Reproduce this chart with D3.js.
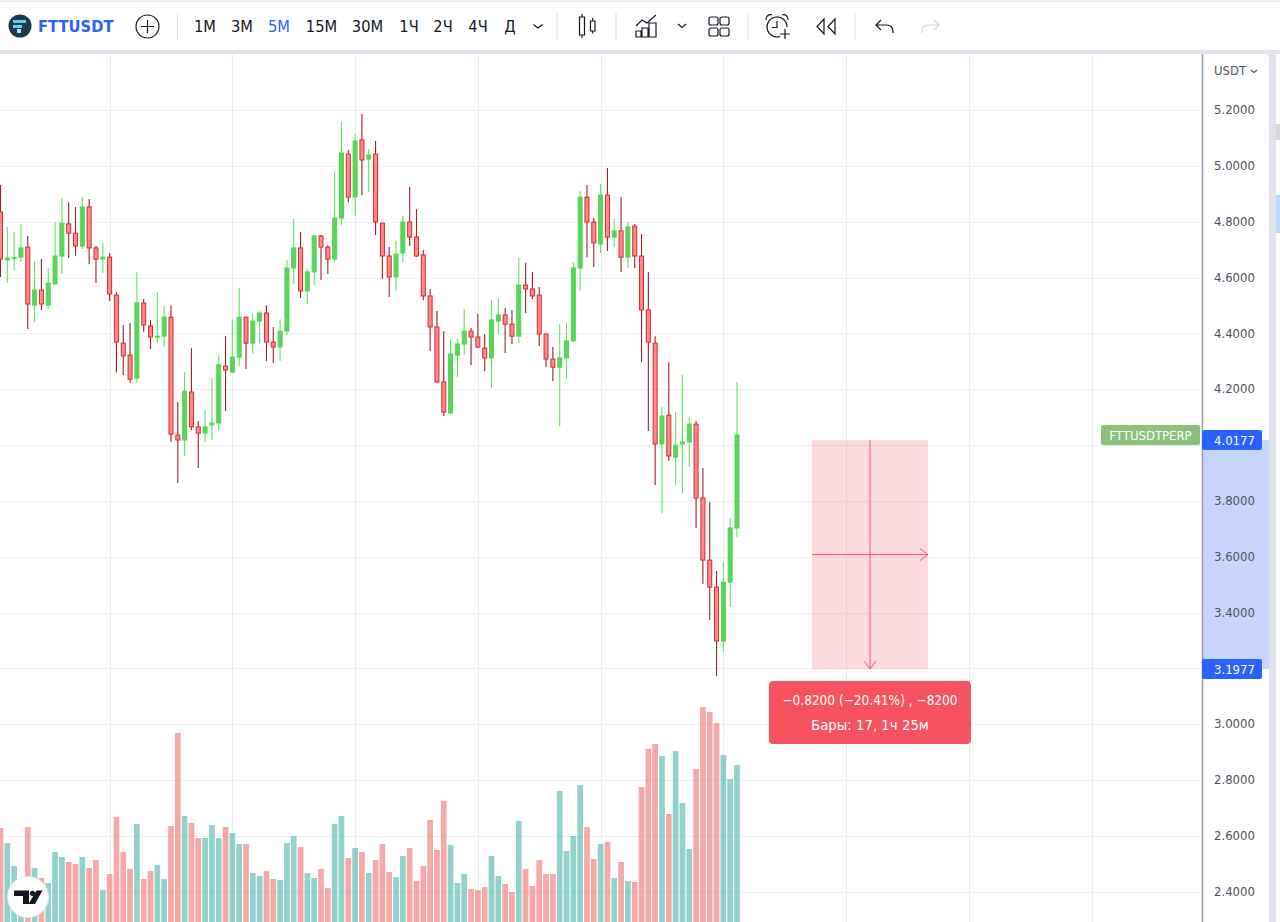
<!DOCTYPE html>
<html>
<head>
<meta charset="utf-8">
<style>
  html, body { margin: 0; padding: 0; background: #fff; overflow: hidden; }
  text { font-family: "DejaVu Sans Condensed", "DejaVu Sans", sans-serif; font-stretch: condensed; }
</style>
<script src="https://cdn.jsdelivr.net/npm/d3@7"></script>
</head>
<body>
<div id="viz"></div>
<script>
// FTTUSDT 5m candles
const opens = [
  4.835,4.663,4.668,4.673,4.709,4.501,4.555,4.501,4.577,4.677,
  4.792,4.759,4.713,4.853,4.706,4.666,4.673,4.537,4.365,4.322,
  4.240,4.509,4.426,4.387,4.390,4.458,4.036,4.018,4.190,4.065,
  4.043,4.072,4.079,4.283,4.261,4.315,4.458,4.365,4.444,4.473,
  4.369,4.351,4.408,4.634,4.706,4.552,4.620,4.749,4.709,4.666,
  4.813,5.042,4.888,5.093,5.024,5.042,4.795,4.677,4.602,4.688,
  4.799,4.745,4.681,4.534,4.423,4.226,4.115,4.322,4.362,4.408,
  4.387,4.347,4.312,4.444,4.466,4.433,4.390,4.573,4.559,4.537,
  4.398,4.308,4.279,4.312,4.373,4.634,4.888,4.799,4.720,4.895,
  4.745,4.767,4.673,4.784,4.677,4.484,4.365,4.004,4.107,3.957,
  4.004,4.011,4.075,3.810,3.588,3.491,3.298,3.509,3.703
];
const closes = [
  4.666,4.670,4.672,4.706,4.505,4.555,4.505,4.580,4.677,4.795,
  4.759,4.713,4.853,4.706,4.666,4.673,4.541,4.369,4.319,4.236,
  4.509,4.430,4.387,4.390,4.458,4.039,4.018,4.193,4.065,4.043,
  4.065,4.079,4.287,4.269,4.315,4.458,4.365,4.444,4.473,4.369,
  4.351,4.408,4.634,4.706,4.552,4.620,4.749,4.709,4.666,4.813,
  5.046,4.888,5.089,5.021,5.039,4.799,4.677,4.602,4.684,4.799,
  4.745,4.677,4.534,4.423,4.226,4.118,4.326,4.362,4.408,4.387,
  4.351,4.312,4.448,4.466,4.433,4.390,4.573,4.559,4.534,4.398,
  4.308,4.279,4.312,4.373,4.634,4.888,4.799,4.724,4.895,4.745,
  4.767,4.673,4.781,4.677,4.484,4.369,4.004,4.104,3.961,4.000,
  4.011,4.075,3.810,3.588,3.491,3.298,3.509,3.703,4.036
];
const highs = [
  4.931,4.781,4.763,4.792,4.749,4.659,4.666,4.634,4.799,4.885,
  4.870,4.853,4.888,4.881,4.713,4.724,4.688,4.548,4.430,4.437,
  4.620,4.523,4.448,4.548,4.498,4.501,4.154,4.261,4.347,4.086,
  4.125,4.240,4.322,4.390,4.451,4.562,4.458,4.469,4.480,4.501,
  4.423,4.451,4.663,4.810,4.763,4.630,4.752,4.752,4.716,4.981,
  5.160,5.057,5.114,5.186,5.060,5.089,4.795,4.709,4.731,4.820,
  4.924,4.845,4.699,4.559,4.480,4.408,4.380,4.380,4.487,4.419,
  4.469,4.398,4.519,4.523,4.491,4.484,4.670,4.652,4.620,4.566,
  4.398,4.351,4.433,4.437,4.655,4.910,4.931,4.813,4.935,4.992,
  4.810,4.888,4.799,4.792,4.756,4.620,4.390,4.136,4.297,4.118,
  4.251,4.097,4.086,3.918,3.796,3.549,3.581,3.739,4.226
];
const lows = [
  4.602,4.580,4.627,4.655,4.416,4.441,4.484,4.487,4.573,4.613,
  4.670,4.677,4.702,4.648,4.580,4.616,4.516,4.261,4.251,4.222,
  4.222,4.405,4.344,4.365,4.351,4.011,3.864,3.961,4.054,3.918,
  4.011,4.018,4.050,4.122,4.261,4.283,4.272,4.326,4.365,4.301,
  4.294,4.301,4.394,4.577,4.527,4.505,4.573,4.591,4.613,4.655,
  4.788,4.870,4.820,4.895,4.906,4.752,4.595,4.530,4.552,4.655,
  4.713,4.673,4.519,4.337,4.222,4.104,4.111,4.244,4.322,4.287,
  4.347,4.265,4.204,4.398,4.330,4.362,4.365,4.473,4.523,4.355,
  4.279,4.229,4.068,4.236,4.369,4.552,4.673,4.638,4.688,4.695,
  4.709,4.620,4.634,4.634,4.297,4.050,3.857,3.756,3.943,3.857,
  3.828,3.921,3.703,3.502,3.373,3.173,3.259,3.420,3.670
];
const volumes = [
  94,79,56,42,95,54,44,39,70,65,
  60,58,65,54,62,32,48,105,70,53,
  98,43,51,57,43,96,189,106,99,84,
  84,97,84,95,89,78,78,49,46,51,
  43,42,79,86,75,49,44,53,34,98,
  106,64,74,70,49,62,78,50,45,66,
  74,41,56,102,72,121,77,39,48,33,
  32,35,66,46,38,30,101,53,36,62,
  48,48,131,71,86,137,95,63,78,80,
  44,60,41,40,135,173,178,166,108,171,
  119,73,153,215,210,199,167,143,157
];
const priceTicks = [5.2,5.0,4.8,4.6,4.4,4.2,3.8,3.6,3.4,3.0,2.8,2.6,2.4];
const gridPrices = [5.2,5.0,4.8,4.6,4.4,4.2,4.0,3.8,3.6,3.4,3.2,3.0,2.8,2.6,2.4];
const gridBars = [16,34,52,70,88,106,124,142,160];
const intervals = ["1М","3М","5М","15М","30М","1Ч","2Ч","4Ч","Д"];
const intervalX = [205,242,279,321.5,367.5,409,443,478,510];
const measureBars = [119,136];
const measurePrices = [4.0177,3.1977];
const measureText = ["−0.8200 (−20.41%) , −8200","Бары: 17, 1ч 25м"];
const symbol = "FTTUSDT";
const seriesLabel = "FTTUSDTPERP";

const width = 1280, height = 922;
const plotRight = 1202, scaleRight = 1269, chartTop = 54;

const x = d3.scaleLinear().domain([0, 108]).range([0.5, 737]);
const y = d3.scaleLinear().domain([5.2, 2.4]).range([110, 891.8]);
const vol = d3.scaleLinear().domain([0, 215]).range([922, 707]);

const bars = opens.map((o, i) => ({ i, o, c: closes[i], h: highs[i], l: lows[i], v: volumes[i], up: closes[i] >= o }));

const svg = d3.select("#viz").append("svg").attr("width", width).attr("height", height).style("display", "block");

// page background + panels
svg.append("rect").attr("width", width).attr("height", height).attr("fill", "#e0e3eb");
svg.append("rect").attr("width", width).attr("height", 50).attr("fill", "#fff");
svg.append("rect").attr("width", width).attr("height", 1.5).attr("y", 0.5).attr("fill", "#e8e8ea");
svg.append("rect").attr("x", -6).attr("y", chartTop).attr("width", scaleRight + 6).attr("height", height).attr("rx", 4).attr("fill", "#fff");
svg.append("rect").attr("x", 1276).attr("y", chartTop).attr("width", 8).attr("height", height).attr("fill", "#fff");
svg.append("rect").attr("x", 1276).attr("y", 124).attr("width", 4).attr("height", 16).attr("fill", "#d6d8dd");
svg.append("rect").attr("x", 1276).attr("y", 195).attr("width", 4).attr("height", 38).attr("fill", "#bbd9fb");

const defs = svg.append("defs");
defs.append("clipPath").attr("id", "plot").append("rect")
  .attr("x", 0).attr("y", chartTop).attr("width", plotRight).attr("height", height - chartTop);

// grid
const grid = svg.append("g").attr("clip-path", "url(#plot)");
grid.selectAll("line.h").data(gridPrices).enter().append("line").attr("class", "h")
  .attr("x1", 0).attr("x2", plotRight)
  .attr("y1", d => Math.round(y(d)) + 0.5).attr("y2", d => Math.round(y(d)) + 0.5)
  .attr("stroke", "#edf2f4");
grid.selectAll("line.v").data(gridBars).enter().append("line").attr("class", "v")
  .attr("y1", chartTop).attr("y2", height)
  .attr("x1", d => Math.round(x(d)) + 0.5).attr("x2", d => Math.round(x(d)) + 0.5)
  .attr("stroke", "#e8eef2");

// volume
const plot = svg.append("g").attr("clip-path", "url(#plot)");
plot.selectAll("rect.vol").data(bars).enter().append("rect").attr("class", "vol")
  .attr("x", d => x(d.i) - 2.85).attr("width", 5.7)
  .attr("y", d => vol(d.v)).attr("height", d => vol(0) - vol(d.v))
  .attr("fill", d => d.up ? "#26a69a" : "#ef5350").attr("fill-opacity", 0.5);

// wicks and bodies
plot.selectAll("line.wick").data(bars).enter().append("line").attr("class", "wick")
  .attr("x1", d => x(d.i)).attr("x2", d => x(d.i))
  .attr("y1", d => y(d.h)).attr("y2", d => y(d.l))
  .attr("stroke", d => d.up ? "#5fe35f" : "#9a2226").attr("stroke-width", 1.1);
plot.selectAll("rect.body").data(bars).enter().append("rect").attr("class", "body")
  .attr("x", d => x(d.i) - 2).attr("width", 4)
  .attr("y", d => y(Math.max(d.o, d.c)))
  .attr("height", d => Math.max(1, Math.abs(y(d.o) - y(d.c))))
  .attr("fill", d => d.up ? "#62cf62" : "#fb8c8c")
  .attr("stroke", d => d.up ? "#45e045" : "#e0242f").attr("stroke-width", 1);

// price range measure
const mx0 = x(measureBars[0]), mx1 = x(measureBars[1]), mxc = (mx0 + mx1) / 2;
const my0 = y(measurePrices[0]), my1 = y(measurePrices[1]), myc = (my0 + my1) / 2;
const measure = svg.append("g");
measure.append("rect").attr("x", mx0).attr("y", my0).attr("width", mx1 - mx0).attr("height", my1 - my0)
  .attr("fill", "#f23645").attr("fill-opacity", 0.18);
const mPath = d3.path();
mPath.moveTo(mx0, myc); mPath.lineTo(mx1, myc);
mPath.moveTo(mx1 - 8, myc - 6); mPath.lineTo(mx1, myc); mPath.lineTo(mx1 - 8, myc + 6);
mPath.moveTo(mxc, my0); mPath.lineTo(mxc, my1);
mPath.moveTo(mxc - 6, my1 - 8); mPath.lineTo(mxc, my1); mPath.lineTo(mxc + 6, my1 - 8);
measure.append("path").attr("d", mPath.toString()).attr("fill", "none").attr("stroke", "#ee5a68").attr("stroke-width", 1);
measure.append("rect").attr("x", mxc - 101).attr("y", my1 + 12).attr("width", 202).attr("height", 63).attr("rx", 4).attr("fill", "#f7525f");
measure.selectAll("text").data(measureText).enter().append("text")
  .attr("x", mxc).attr("y", (d, i) => my1 + 36 + i * 25).attr("text-anchor", "middle")
  .attr("font-size", (d, i) => i ? 14.8 : 13.5).attr("fill", "#fff").text(d => d);

// price scale
svg.append("rect").attr("x", plotRight).attr("y", my0).attr("width", scaleRight - plotRight).attr("height", my1 - my0).attr("fill", "#c6d5fb");
const axis = svg.append("g").attr("transform", `translate(${plotRight},-0.5)`)
  .call(d3.axisRight(y).tickValues(priceTicks).tickFormat(d3.format(".4f")).tickSize(0).tickPadding(12));
axis.select(".domain").remove();
axis.selectAll("text").attr("font-size", 13).attr("fill", "#50535e");
svg.append("line").attr("x1", plotRight + 0.5).attr("x2", plotRight + 0.5).attr("y1", chartTop).attr("y2", height)
  .attr("stroke", "#9da0a8").attr("stroke-width", 1.6);

svg.append("text").attr("x", 1214).attr("y", 75).attr("font-size", 13).attr("fill", "#50535e").text("USDT");
svg.append("path").attr("d", "M1251 70l3 2.5l3 -2.5").attr("fill", "none").attr("stroke", "#50535e").attr("stroke-width", 1.2);

svg.selectAll("g.plabel").data(measurePrices).enter().append("g").attr("class", "plabel")
  .attr("transform", d => `translate(${plotRight},${y(d)})`)
  .call(g => {
    g.append("rect").attr("x", 0).attr("y", -10).attr("width", 60).attr("height", 20).attr("rx", 2).attr("fill", "#2962ff");
    g.append("text").attr("x", 12).attr("y", 4.5).attr("font-size", 13).attr("fill", "#fff").text(d => d.toFixed(4));
  });
svg.append("rect").attr("x", 1101).attr("y", 425).attr("width", 99).attr("height", 20).attr("rx", 2).attr("fill", "#8dc07c");
svg.append("text").attr("x", 1150.5).attr("y", 440).attr("text-anchor", "middle").attr("font-size", 13).attr("fill", "#fff").text(seriesLabel);

// TV logo
const tv = svg.append("g").attr("transform", "translate(28,897)");
tv.append("circle").attr("r", 20.5).attr("fill", "#fff").attr("stroke", "#e8eaf0");
tv.append("path").attr("d", "M-14 -6.5H1V7H-5V-1H-14Z M8.5 -6.5H14.5L7 7H0.5Z").attr("fill", "#131722");
tv.append("circle").attr("cx", 4.5).attr("cy", -3.7).attr("r", 2.6).attr("fill", "#131722");

// toolbar
const bar = svg.append("g");
bar.append("circle").attr("cx", 20).attr("cy", 26).attr("r", 11.5).attr("fill", "#1e3a4d");
bar.append("path").attr("d", "M13 20h13v3h-13z M13 25h9v3h-9z").attr("fill", "#5fd0e6");
bar.append("path").attr("d", "M17 29h4v4h-4z").attr("fill", "#a8e6f2");
bar.append("text").attr("x", 38).attr("y", 32).attr("font-size", 16.4).attr("font-weight", "bold").attr("fill", "#2962ff").text(symbol);

bar.append("circle").attr("cx", 147.5).attr("cy", 26.5).attr("r", 11.5).attr("fill", "none").attr("stroke", "#131722").attr("stroke-width", 1.2);
bar.append("path").attr("d", "M147.5 20v13M141 26.5h13").attr("stroke", "#131722").attr("stroke-width", 1.2);

bar.selectAll("line.sep").data([177.5, 557, 616, 748, 855]).enter().append("line").attr("class", "sep")
  .attr("x1", d => d).attr("x2", d => d).attr("y1", 13).attr("y2", 40).attr("stroke", "#e0e3eb").attr("stroke-width", 1.2);

bar.selectAll("text.iv").data(intervals).enter().append("text").attr("class", "iv")
  .attr("x", (d, i) => intervalX[i]).attr("y", 32).attr("text-anchor", "middle").attr("font-size", 16.3)
  .attr("fill", d => d === "5М" ? "#2962ff" : "#131722").text(d => d);

const icon = "#131722";
const stroke = (d, c) => bar.append("path").attr("d", d).attr("fill", "none").attr("stroke", c || icon).attr("stroke-width", 1.2);
stroke("M533.5 24.5l4.5 3.5l4.5 -3.5");  // interval chevron
stroke("M579.5 17h5v18h-5z M582 14v3M582 35v3 M590.5 21h4.5v10h-4.5z M592.7 18v3M592.7 31v2.5"); // candles
stroke("M636 37v-6h5v6z M642 37v-9h6v9z M649 37v-14h7v14z M636 26l6 -6l5 3l9 -8"); // indicators
stroke("M678 24l4 3.5l4 -3.5");
stroke("M711 17h5a2 2 0 0 1 2 2v4a2 2 0 0 1 -2 2h-5a2 2 0 0 1 -2 -2v-4a2 2 0 0 1 2 -2z "
     + "M722 17h5a2 2 0 0 1 2 2v4a2 2 0 0 1 -2 2h-5a2 2 0 0 1 -2 -2v-4a2 2 0 0 1 2 -2z "
     + "M711 28h5a2 2 0 0 1 2 2v4a2 2 0 0 1 -2 2h-5a2 2 0 0 1 -2 -2v-4a2 2 0 0 1 2 -2z "
     + "M722 28h5a2 2 0 0 1 2 2v4a2 2 0 0 1 -2 2h-5a2 2 0 0 1 -2 -2v-4a2 2 0 0 1 2 -2z");
stroke("M787 27a10 10 0 1 0 -7 9.5 M766 20a4.5 4.5 0 0 1 6 -5 M782 15a4.5 4.5 0 0 1 6 5 M777 21v6.5h-5 M785 29v10M780 34h10"); // alarm
stroke("M824 19l-7 7.5l7 7.5z M835 19l-7 7.5l7 7.5z");
stroke("M881 20l-5 5l5 5 M876 25h11a6 6 0 0 1 6 6v2");
stroke("M934 20l5 5l-5 5 M939 25h-11a6 6 0 0 0 -6 6v2", "#d1d4dc");
</script>
</body>
</html>
